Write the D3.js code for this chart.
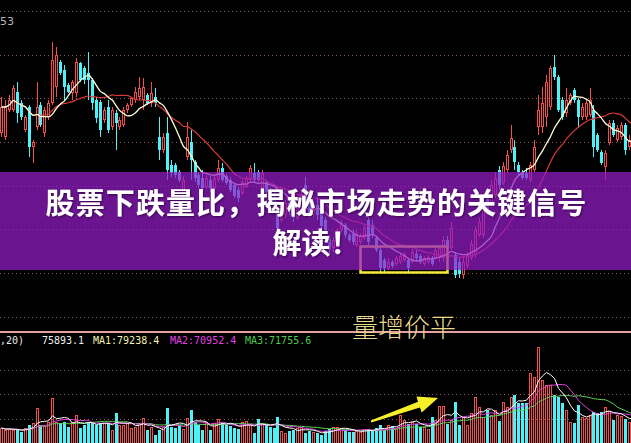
<!DOCTYPE html>
<html><head><meta charset="utf-8">
<script src="https://cdn.jsdelivr.net/npm/d3@7/dist/d3.min.js"></script>
<style>html,body{margin:0;padding:0;background:#000;overflow:hidden}svg{display:block}</style>
</head><body>
<svg id="c" width="631" height="443"></svg>
<script>
// ---- data (price units, volume units) ----
const open = [267,263,290,290,308,297,270,293,253,273,
295,267,283,297,313,338,330,315,307,307,
337,332,327,320,300,298,280,293,273,287,
273,275,290,295,300,303,300,305,297,303,
263,250,267,235,235,228,207,243,258,238,
225,222,213,220,212,220,232,224,220,215,
210,207,213,220,227,228,212,218,210,202,
190,180,185,197,192,182,193,215,200,185,
195,188,180,162,152,155,170,175,165,166,
155,158,162,180,175,162,150,140,132,138,
136,138,140,140,138,146,144,136,138,142,
142,142,142,160,152,145,138,125,134,142,
145,165,165,203,195,205,230,217,230,250,
253,235,228,227,220,230,273,273,283,293,
333,323,300,287,297,310,300,283,283,285,
290,265,248,233,257,277,260,263,275,253,250];
const high = [303,300,305,315,318,300,285,295,260,318,
298,293,300,358,353,340,335,317,320,342,
338,334,348,322,303,300,293,300,293,290,
283,293,297,303,313,323,322,307,318,312,
283,267,283,240,237,230,224,278,270,240,
228,230,225,224,225,240,237,226,223,217,
213,220,224,235,237,230,230,220,212,207,
193,197,200,200,195,195,210,223,203,195,
203,190,183,165,163,172,180,177,167,170,
170,167,175,183,180,163,153,142,142,140,
144,146,148,142,151,150,146,144,145,144,
152,155,164,164,178,148,142,144,148,160,
174,182,198,208,220,228,234,238,250,275,
260,238,230,232,238,260,305,313,325,334,
345,325,303,312,307,312,302,297,300,312,
295,267,250,250,280,280,275,278,277,265,272];
const low = [263,260,288,288,277,280,268,243,237,270,
273,263,280,295,303,325,300,307,300,303,
318,316,300,290,277,263,277,267,270,250,
270,273,287,293,297,300,290,295,293,293,
240,247,220,223,222,218,205,240,220,218,
212,208,211,208,210,218,218,215,208,202,
198,205,212,218,218,218,208,205,195,190,
168,178,182,185,178,180,190,193,182,182,
180,170,168,147,148,152,168,162,158,155,
153,156,160,155,162,148,128,128,130,132,
134,136,138,128,137,138,136,134,136,134,
140,138,138,148,150,122,122,121,132,140,
142,163,162,185,192,202,210,215,228,247,
230,225,220,220,218,228,265,267,273,290,
320,288,280,283,295,297,272,280,280,283,
243,248,235,220,255,263,258,260,245,250,248];
const close = [293,293,300,312,287,283,283,253,258,293,
275,290,297,340,345,327,313,308,318,338,
320,320,320,297,282,270,290,270,290,277,
280,290,295,302,308,312,313,297,307,297,
250,263,230,227,225,220,220,263,240,222,
215,212,222,212,222,232,220,217,210,204,
202,218,222,232,220,220,227,208,197,193,
172,192,197,188,182,192,205,200,185,192,
185,174,170,150,160,168,177,165,160,158,
167,164,172,158,165,150,132,132,138,134,
142,144,146,132,148,142,138,142,143,136,
150,152,160,152,172,125,126,138,145,156,
170,178,194,190,215,222,215,234,245,262,
238,228,222,222,235,253,290,297,318,332,
323,290,283,300,305,300,283,293,297,300,
253,250,237,247,277,265,272,275,250,260,267];
const volume = [15,13,14,13,13,11,15,18,20,35,
18,17,21,45,21,20,21,16,21,28,
15,18,21,20,18,20,20,20,13,30,
18,18,20,15,16,20,25,13,16,8,
13,16,35,16,15,18,14,25,33,21,
18,13,21,13,20,24,20,18,17,15,
14,21,22,18,10,24,20,19,16,15,
26,12,10,12,13,15,16,10,12,11,
10,8,12,14,16,16,15,13,11,11,
12,11,14,14,12,15,18,13,18,17,
15,28,23,19,21,19,16,16,14,26,
23,37,37,19,23,41,18,26,18,30,
46,36,26,33,28,33,22,41,36,46,
48,40,40,40,70,66,96,63,58,58,
48,46,40,33,21,20,38,26,25,28,
31,30,31,36,32,23,28,27,24,21,20];
const priceGrid = [389,345.3,301.6,257.9,214.2,170.5,126.8,83.1];
const volGrid = [24.5,49,73];
const legendTexts = [",20)", "75893.1", "MA1:79238.4", "MA2:70952.4", "MA3:71755.6"];
const titleLines = ["股票下跌量比，揭秘市场走势的关键信号", "解读！"];
const noteText = "量增价平";
const axisLabel = "53";

// ---- drawing ----
const W = 631, H = 443;
const svg = d3.select("#c");
svg.append("rect").attr("width", W).attr("height", H).attr("fill", "#000");

const N = close.length;
const x = d3.scaleBand().domain(d3.range(N)).range([-1, -1 + N * 3.95]);
const cx = i => Math.round(x(i) + x.bandwidth() / 2) + 0.5;
const yP = d3.scaleLinear().domain([68, 400]).range([332, 0]);
const yV = d3.scaleLinear().domain([0, 100]).range([443, 343]);
const RED = "#f24e4e", CYAN = "#4ff0f6";

// grid
const grid = svg.append("g").attr("stroke", "#8c5a5a").attr("stroke-width", 1).attr("stroke-dasharray", "1,3");
priceGrid.forEach(v => { const yy = Math.round(yP(v)) + 0.5; grid.append("line").attr("x1", 0).attr("x2", W).attr("y1", yy).attr("y2", yy); });
volGrid.forEach(v => { const yy = Math.round(yV(v)) + 0.5; grid.append("line").attr("x1", 0).attr("x2", W).attr("y1", yy).attr("y2", yy); });

// candles
const cg = svg.append("g");
d3.range(N).forEach(i => {
  const up = close[i] >= open[i];
  const col = up ? RED : CYAN;
  const xc = cx(i);
  const top = Math.round(yP(Math.max(open[i], close[i])));
  const bot = Math.round(yP(Math.min(open[i], close[i])));
  cg.append("line").attr("x1", xc).attr("x2", xc).attr("y1", yP(high[i])).attr("y2", top).attr("stroke", col);
  cg.append("line").attr("x1", xc).attr("x2", xc).attr("y1", bot).attr("y2", yP(low[i])).attr("stroke", col);
  if (up) {
    cg.append("rect").attr("x", xc - 1).attr("y", top + 0.5).attr("width", 2).attr("height", Math.max(1, bot - top - 1))
      .attr("fill", "#000").attr("stroke", col).attr("stroke-width", 1);
  } else {
    cg.append("rect").attr("x", xc - 1.5).attr("y", top).attr("width", 3).attr("height", Math.max(1, bot - top)).attr("fill", col);
  }
});

function ma(arr, n) { return arr.map((_, i) => d3.mean(arr.slice(Math.max(0, i - n + 1), i + 1))); }
const lineP = d3.line().x((d, i) => cx(i)).y(d => yP(d)).curve(d3.curveMonotoneX);
svg.append("path").attr("d", lineP(ma(close, 20))).attr("fill", "none").attr("stroke", "#d83a3a").attr("stroke-width", 1.2);
svg.append("path").attr("d", lineP(ma(close, 10))).attr("fill", "none").attr("stroke", "#ffffd8").attr("stroke-width", 1.3);

// volume bars
const vg = svg.append("g");
d3.range(N).forEach(i => {
  const up = close[i] >= open[i];
  const xc = cx(i);
  const t = Math.round(yV(volume[i]));
  if (up) vg.append("rect").attr("x", xc - 1).attr("y", t + 0.5).attr("width", 2).attr("height", H - t + 2)
    .attr("fill", "none").attr("stroke", RED).attr("stroke-width", 1);
  else vg.append("rect").attr("x", xc - 1.5).attr("y", t).attr("width", 3).attr("height", H - t).attr("fill", CYAN);
});
const lineV = d3.line().x((d, i) => cx(i)).y(d => yV(d));
[[20, "#5fd35f"], [10, "#e040e0"], [5, "#ffffff"]].forEach(([n, c]) =>
  svg.append("path").attr("d", lineV(ma(volume, n))).attr("fill", "none").attr("stroke", c).attr("stroke-width", 1));

// separator
svg.append("line").attr("x1", 0).attr("x2", W).attr("y1", 332).attr("y2", 332).attr("stroke", "#e6a0a0").attr("stroke-width", 2);

// legend
const lx = [0, 42, 93, 170, 245], lc = ["#e8e8e8", "#f0f0f0", "#f4f0b0", "#e040e0", "#50c850"];
legendTexts.forEach((t, k) => svg.append("text").attr("x", lx[k]).attr("y", 344).attr("fill", lc[k])
  .attr("font-family", "DejaVu Sans Mono, monospace").attr("font-size", 10).text(t));
svg.append("text").attr("x", 0).attr("y", 25).attr("fill", "#b8b8b8").attr("font-family", "DejaVu Sans, sans-serif").attr("font-size", 11).text(axisLabel);

// annotation box (under banner)
svg.append("rect").attr("x", 360.5).attr("y", 246.5).attr("width", 87).attr("height", 26)
  .attr("fill", "none").attr("stroke", "#f6ea3c").attr("stroke-width", 2.5);

// banner
svg.append("rect").attr("x", 0).attr("y", 172).attr("width", W).attr("height", 98).attr("fill", "rgb(148,28,200)").attr("opacity", 0.72);

// note + arrow
svg.append("text").attr("x", 352).attr("y", 337).attr("fill", "#e8d98e").attr("font-family", "Noto Sans CJK SC").attr("font-weight", 300).attr("font-size", 26).text(noteText);
svg.append("polygon").attr("points", "370.7,420.6 418,401.8 416.5,396.5 438,398 421.7,412.5 420,407.4 371.3,422.6").attr("fill", "#f6ef2a");

// title
const defs = svg.append("defs");
const f = defs.append("filter").attr("id", "sh").attr("x", "-5%").attr("y", "-20%").attr("width", "110%").attr("height", "140%");
f.append("feDropShadow").attr("dx", 1).attr("dy", 1).attr("stdDeviation", 1).attr("flood-color", "#1a0028").attr("flood-opacity", 0.7);
titleLines.forEach((t, k) => svg.append("text").attr("x", k === 0 ? 316.5 : 316).attr("y", k === 0 ? 214 : 254).attr("text-anchor", "middle")
  .attr("fill", "#fff").attr("font-family", "Noto Sans CJK SC").attr("font-weight", 700).attr("font-size", 29)
  .attr("letter-spacing", k === 0 ? 1.1 : 0)
  .attr("filter", "url(#sh)").text(t));
</script>
</body></html>
